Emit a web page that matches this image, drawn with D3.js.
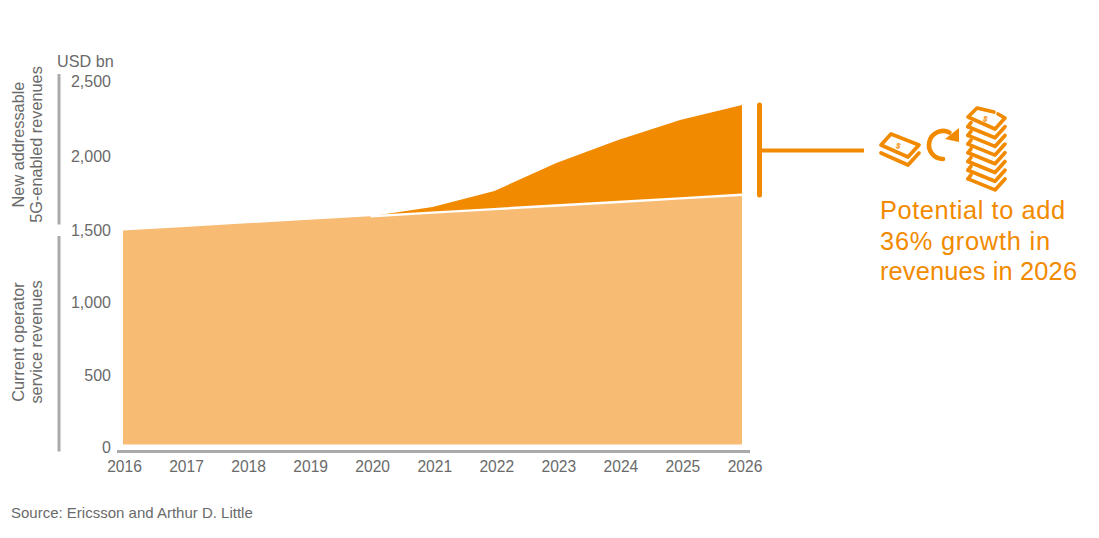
<!DOCTYPE html>
<html><head><meta charset="utf-8">
<script src="https://cdn.jsdelivr.net/npm/d3@7"></script>
<style>html,body{margin:0;padding:0;background:#fff}svg{display:block}text{font-family:"Liberation Sans",Arial,sans-serif}</style>
</head><body><svg id="c" width="1099" height="538"></svg>
<script>
const years=[2016,2017,2018,2019,2020,2021,2022,2023,2024,2025,2026];
const currentRevenue=[1500,1525,1550,1575,1600,1625,1650,1675,1700,1725,1750];
const totalRevenue=[1500,1525,1550,1575,1600,1665,1777,1973,2134,2274,2380];
const yTickValues=[0,500,1000,1500,2000,2500];
const sideLabelLower=["Current operator","service revenues"];
const sideLabelUpper=["New addressable","5G-enabled revenues"];
const calloutLines=["Potential to add","36% growth in","revenues in 2026"];

const ORANGE="#f28a00",LIGHT="#f8bb73",GREY="#aaaaaa",TXT="#6a6a6a";
const svg=d3.select("#c");
const x=d3.scalePoint().domain(years).range([123,742]);
const y=d3.scaleLinear().domain([0,2500]).range([444.5,87.8]);
// tick labels in the reference sit on their own slightly uneven ladder, not on the marks' scale
const xl=d3.scalePoint().domain(years).range([124.5,745]);
const yl=d3.scaleLinear().domain(yTickValues).range([447,375,302,230.5,156.7,81.7]);

const rows=years.map((d,i)=>({year:d,cur:currentRevenue[i],tot:totalRevenue[i]}));
svg.append("path").datum(rows).attr("fill",LIGHT)
 .attr("d",d3.area().x(d=>x(d.year)).y0(y(0)).y1(d=>y(d.cur)));
const upper=rows.filter(d=>d.year>=2020);
svg.append("path").datum(upper).attr("fill",ORANGE)
 .attr("d",d3.area().x(d=>x(d.year)).y0(d=>y(d.cur)).y1(d=>y(d.tot)));
svg.append("path").datum(upper).attr("fill","none").attr("stroke","#fff").attr("stroke-width",2.4)
 .attr("d",d3.line().x(d=>x(d.year)).y(d=>y(d.cur)));

// axes
const line=(x1,y1,x2,y2,c,w)=>svg.append("line").attr("x1",x1).attr("y1",y1).attr("x2",x2).attr("y2",y2).attr("stroke",c).attr("stroke-width",w);
line(117,451.5,750,451.5,GREY,3);
line(59,74,59,224.5,GREY,3);
line(59,236,59,451.5,GREY,3);
svg.append("g").selectAll("text").data(yTickValues).join("text")
 .attr("x",111).attr("y",d=>yl(d)).attr("dy","0.35em").attr("text-anchor","end")
 .attr("font-size",16).attr("fill",TXT).text(d3.format(","));
svg.append("g").selectAll("text").data(years).join("text")
 .attr("x",d=>xl(d)).attr("y",472).attr("text-anchor","middle")
 .attr("font-size",15.6).attr("fill",TXT).text(d=>d);
svg.append("text").attr("x",57).attr("y",67).attr("font-size",16.2).attr("fill",TXT).text("USD bn");
const side=(lines,cy)=>lines.forEach((t,i)=>svg.append("text")
 .attr("transform",`translate(${24+i*18},${cy}) rotate(-90)`).attr("text-anchor","middle")
 .attr("font-size",16.3).attr("fill",TXT).text(t));
side(sideLabelUpper,144.5);
side(sideLabelLower,342);
svg.append("text").attr("x",11).attr("y",518).attr("font-size",15).attr("fill",TXT).text("Source: Ericsson and Arthur D. Little");

// bracket + callout
line(759.5,105,759.5,195,ORANGE,5).attr("stroke-linecap","round");
line(760,150.5,864,150.5,ORANGE,4);
const calloutWidths=[185,170,197];
svg.append("g").selectAll("text").data(calloutLines).join("text")
 .attr("x",880).attr("y",(d,i)=>219+i*30.5).attr("font-size",25.4)
 .attr("textLength",(d,i)=>calloutWidths[i]).attr("lengthAdjust","spacing")
 .attr("fill",ORANGE).text(d=>d);

// icons
const icon=svg.append("g").attr("fill","none").attr("stroke",ORANGE).attr("stroke-width",3.7)
 .attr("stroke-linejoin","round").attr("stroke-linecap","round");
icon.append("path").attr("d","M881,145L891,134L919,145L908,157Z");
icon.append("path").attr("d","M881,153L908,165L919,153");
icon.append("text").attr("x",896).attr("y",149).attr("font-size",8).attr("font-weight","bold")
 .attr("fill",ORANGE).attr("stroke","none").attr("transform","rotate(20 899 146)").text("$");
icon.append("path").attr("stroke-width",4.6).attr("stroke-linecap","butt")
 .attr("d",d3.arc()({innerRadius:14,outerRadius:14,startAngle:Math.PI*1.0,endAngle:Math.PI*2.15}))
 .attr("transform","translate(943,145)");
icon.append("path").attr("fill",ORANGE).attr("stroke","none").attr("d","M945,139L959,128L959,142Z");
d3.range(1,8).forEach(i=>{const o=i*8.7;
 icon.append("path").attr("d",`M968,${118+o}L995,${129+o}L1005,${118+o}`);
 icon.append("path").attr("d",`M968,${118+o}L971,${114+o}`);
});
icon.append("path").attr("d","M994,112L977,108L968,117L995,129L1005,118L998,114");
icon.append("text").attr("x",983).attr("y",122).attr("font-size",8).attr("font-weight","bold")
 .attr("fill",ORANGE).attr("stroke","none").attr("transform","rotate(20 986 119)").text("$");
</script></body></html>
